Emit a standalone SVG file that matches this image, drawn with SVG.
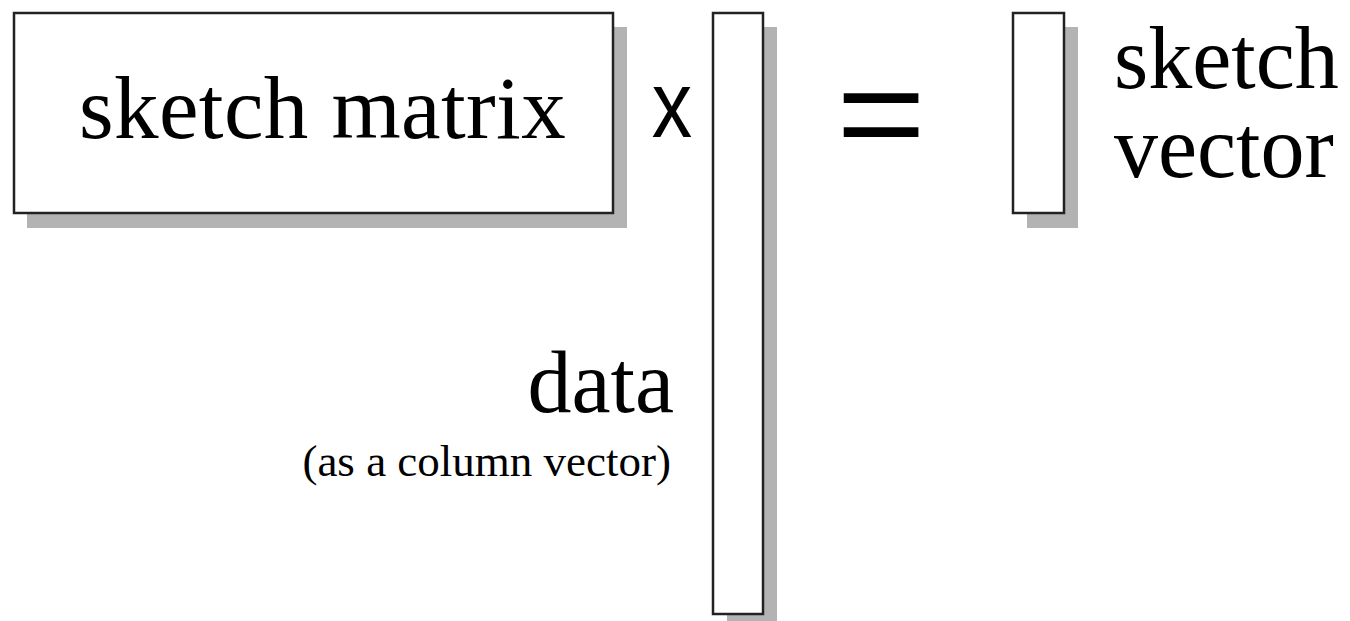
<svg xmlns="http://www.w3.org/2000/svg" width="1350" height="621" viewBox="0 0 1350 621">
  <style>
    .box { fill: #ffffff; stroke: #222222; stroke-width: 2.5; }
    .shadow { fill: #b3b3b3; stroke: none; }
    .serif { font-family: "Liberation Serif", "Times New Roman", serif; fill: #000000; }
    .sans { font-family: "Liberation Sans", Arial, sans-serif; fill: #000000; }
  </style>
  <rect width="1350" height="621" fill="#ffffff"/>
  <g id="sketch-matrix">
    <rect class="shadow" x="27" y="27" width="600" height="201"/>
    <rect class="box" x="14" y="13" width="599" height="200"/>
    <text class="serif" x="79" y="138" font-size="89" letter-spacing="0.4">sketch matrix</text>
  </g>
  <g id="times">
    <text class="sans" transform="translate(672,137) scale(0.86,1)" text-anchor="middle" font-size="94">x</text>
  </g>
  <g id="data-vector">
    <rect class="shadow" x="727" y="27" width="50" height="601"/>
    <rect class="box" x="713" y="13" width="50" height="601"/>
    <text class="serif" x="674" y="412" font-size="88" text-anchor="end">data</text>
    <text class="serif" x="671" y="476" font-size="45" text-anchor="end">(as a column vector)</text>
  </g>
  <g id="equals">
    <text class="sans" transform="translate(881,160) scale(1.13,1)" text-anchor="middle" font-size="136">=</text>
  </g>
  <g id="sketch-vector">
    <rect class="shadow" x="1027" y="27" width="51" height="201"/>
    <rect class="box" x="1013" y="13" width="51" height="200"/>
    <text class="serif" x="1114" y="88" font-size="88">sketch</text>
    <text class="serif" x="1114" y="177" font-size="88">vector</text>
  </g>
  <g id="connectors"></g>
</svg>
